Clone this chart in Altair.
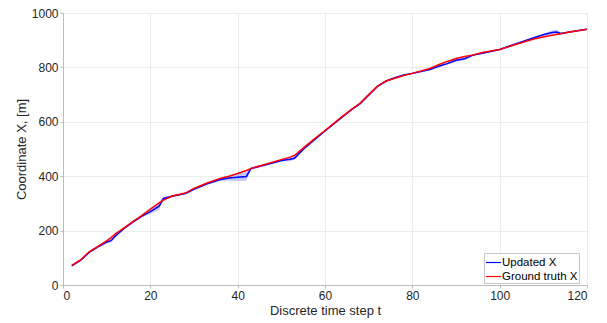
import altair as alt
import pandas as pd

t = [2, 4, 6, 8, 10, 11, 12, 14, 16, 18, 20, 22, 23, 25, 28, 30, 33, 36, 38, 40,
     42, 43, 46, 50, 52, 53, 55, 57, 60, 62, 64, 66, 68, 70, 72, 74, 76, 78, 80, 84,
     86, 88, 90, 92, 94, 96, 100, 104, 108, 110, 112, 113, 114, 116, 120]

truth = [72, 92, 122, 142, 162, 174, 188, 210, 233, 255, 279, 302, 312, 327, 338, 355, 375, 392, 400, 410,
         421, 428, 442, 461, 470, 476, 503, 530, 568, 594, 620, 645, 668, 700, 730, 750, 760, 770, 778, 796,
         810, 822, 833, 840, 846, 855, 866, 886, 905, 912, 918, 921, 924, 930, 940]

updated = [70, 90, 120, 140, 158, 163, 180, 208, 231, 252, 270, 290, 318, 326, 336, 352, 372, 388, 393, 396,
           399, 428, 440, 458, 462, 466, 498, 526, 566, 592, 618, 644, 666, 698, 730, 750, 762, 772, 778, 792,
           804, 814, 826, 832, 846, 852, 866, 888, 910, 920, 928, 930, 925, 930, 940]

sigma = [3, 3, 3, 3, 5, 7, 5, 3, 3, 3, 8, 14, 6, 3, 3, 3, 3, 6, 10, 14,
         16, 6, 3, 5, 6, 6, 3, 3, 3, 3, 3, 3, 3, 3, 3, 3, 3, 3, 3, 4,
         4, 4, 5, 5, 3, 3, 3, 3, 3, 5, 8, 8, 3, 3, 3]

x_ticks = [0, 20, 40, 60, 80, 100, 120]
y_ticks = [0, 200, 400, 600, 800, 1000]

series_names = ["Updated X", "Ground truth X"]
series_colors = ["#0000ff", "#ff0000"]

df_u = pd.DataFrame({"t": t, "v": updated, "s": series_names[0],
                     "lo": [u - s for u, s in zip(updated, sigma)],
                     "hi": [u + s for u, s in zip(updated, sigma)]})
df_g = pd.DataFrame({"t": t, "v": truth, "s": series_names[1]})

FONT = "Liberation Sans"

xenc = alt.X("t:Q", scale=alt.Scale(domain=[0, 120], nice=False),
             axis=alt.Axis(values=x_ticks, title="Discrete time step t", grid=True, format="d"))
yenc = alt.Y("v:Q", scale=alt.Scale(domain=[0, 1000], nice=False),
             axis=alt.Axis(values=y_ticks, title="Coordinate X, [m]", grid=True, format="d"))
color = alt.Color("s:N", scale=alt.Scale(domain=series_names, range=series_colors),
                  legend=alt.Legend(title=None, orient="none", legendX=421, legendY=240,
                                    symbolType="stroke", symbolStrokeWidth=1.2, symbolSize=230,
                                    labelFont=FONT, labelFontSize=11.5, labelColor="#000000",
                                    strokeColor="#c8c8c8", fillColor="white", padding=1,
                                    rowPadding=0, labelOffset=0, symbolOffset=0))

band = alt.Chart(df_u).mark_area(color="#0000ff", opacity=0.22).encode(
    x=xenc, y=alt.Y("lo:Q"), y2="hi:Q")
blue = alt.Chart(df_u).mark_line(strokeWidth=1.5).encode(x=xenc, y=yenc, color=color)
red = alt.Chart(df_g).mark_line(strokeWidth=1.5).encode(x=xenc, y=yenc, color=color)

chart = alt.layer(band, blue, red).properties(
    width=524, height=272,
    autosize=alt.AutoSizeParams(type="none"),
    padding={"left": 55, "top": 5, "right": 12, "bottom": 38},
).configure_view(stroke="#bcbcbc", strokeWidth=1).configure_axis(
    domainColor="#bcbcbc", gridColor="#ececec", tickColor="#bcbcbc", tickSize=3,
    labelFont=FONT, labelFontSize=12, labelColor="#262626",
    titleFont=FONT, titleFontSize=13, titleColor="#262626", titleFontWeight="normal",
    labelPadding=2,
).configure_axisX(titlePadding=3).configure_axisY(titlePadding=3)

chart.save("out.html", embed_options={"renderer": "svg", "actions": False})
